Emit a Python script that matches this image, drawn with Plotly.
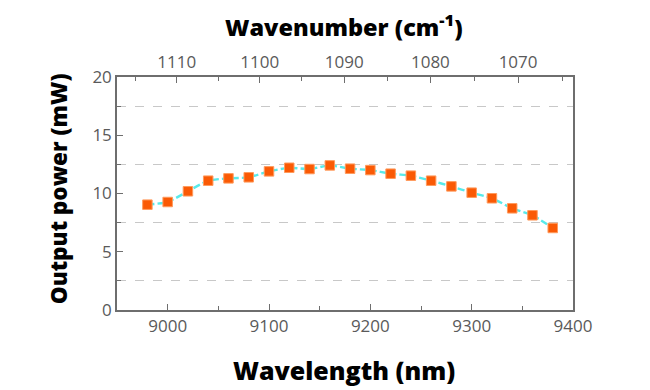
import plotly.graph_objects as go

wavelength_nm = [8980, 9000, 9020, 9040, 9060, 9080, 9100, 9120, 9140, 9160, 9180,
                 9200, 9220, 9240, 9260, 9280, 9300, 9320, 9340, 9360, 9380]
power_mw = [9.04, 9.27, 10.19, 11.1, 11.3, 11.39, 11.9, 12.21, 12.1, 12.41, 12.13,
            12.01, 11.7, 11.53, 11.1, 10.61, 10.07, 9.59, 8.73, 8.13, 7.04]
wavenumber_ticks = [1110, 1100, 1090, 1080, 1070]
wavenumber_minor = [1115, 1105, 1095, 1085, 1075, 1065]

x_range = [8950, 9400]
font_family = "Open Sans, Noto Sans, sans-serif"
tick_font = dict(family=font_family, size=17, color="#5a5a5a")
title_font = dict(family=font_family, color="black", weight=800)
axis_color = "#6e6e6e"

fig = go.Figure()
fig.add_trace(go.Scatter(
    x=wavelength_nm, y=power_mw, mode="lines+markers",
    line=dict(color="#58eaea", width=2.4, dash="7px,3px", shape="spline", smoothing=0.6),
    marker=dict(symbol="square", size=9.5, color="#fa5a05",
                line=dict(color="#ff9a5c", width=1)),
    showlegend=False, hoverinfo="skip"))
fig.add_trace(go.Scatter(
    x=wavelength_nm, y=power_mw, xaxis="x2", mode="markers",
    marker=dict(opacity=0), showlegend=False, hoverinfo="skip"))

fig.update_layout(
    width=642, height=382,
    margin=dict(l=109, r=77, t=69, b=80),
    paper_bgcolor="white", plot_bgcolor="white",
    xaxis=dict(
        range=x_range, tickvals=[9000, 9100, 9200, 9300, 9400],
        ticks="inside", ticklen=6, tickcolor=axis_color, tickwidth=1.2,
        showline=True, linecolor=axis_color, linewidth=1.5, mirror=True,
        showgrid=False, zeroline=False, tickfont=tick_font, automargin=False,
        minor=dict(tickvals=[9050, 9150, 9250, 9350], ticks="inside",
                   ticklen=4, tickcolor=axis_color, showgrid=False),
    ),
    xaxis2=dict(
        overlaying="x", side="top", anchor="y", range=x_range,
        tickmode="array",
        tickvals=[1e7 / w for w in wavenumber_ticks],
        ticktext=[str(w) for w in wavenumber_ticks],
        ticks="inside", ticklen=6, tickcolor=axis_color, tickwidth=1.2,
        showline=True, linecolor=axis_color, linewidth=1.5,
        showgrid=False, zeroline=False, tickfont=tick_font, automargin=False,
        minor=dict(tickvals=[1e7 / w for w in wavenumber_minor], ticks="inside",
                   ticklen=4, tickcolor=axis_color, showgrid=False),
    ),
    yaxis=dict(
        range=[0, 20], tickvals=[0, 5, 10, 15, 20],
        ticks="inside", ticklen=6, tickcolor=axis_color, tickwidth=1.2,
        showline=True, linecolor=axis_color, linewidth=1.5, mirror=True,
        showgrid=False, zeroline=False, tickfont=tick_font, automargin=False,
        minor=dict(tickvals=[2.5, 7.5, 12.5, 17.5], ticks="inside", ticklen=4,
                   tickcolor=axis_color, showgrid=True, gridcolor="#c8c8c8",
                   griddash="dash", gridwidth=1),
    ),
    annotations=[
        dict(text="Wavelength (nm)", xref="paper", yref="paper",
             x=0.498, y=-0.2575, xanchor="center", yanchor="middle", showarrow=False,
             font=dict(size=25, **title_font)),
        dict(text="Wavenumber (cm<sup>-1</sup>)", xref="paper", yref="paper",
             x=0.497, y=1.223, xanchor="center", yanchor="middle", showarrow=False,
             font=dict(size=23.5, **title_font)),
        dict(text="Output power (mW)", xref="paper", yref="paper",
             x=-0.129, y=0.519, xanchor="center", yanchor="middle", showarrow=False,
             textangle=-90, font=dict(size=22.5, **title_font)),
    ],
)

fig.write_html("out.html")
